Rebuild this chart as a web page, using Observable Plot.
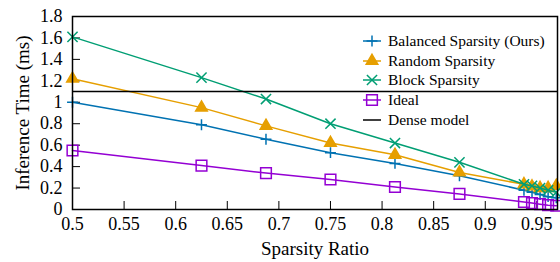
<!DOCTYPE html>
<html><head><meta charset="utf-8">
<script src="https://cdn.jsdelivr.net/npm/d3@7"></script>
<script src="https://cdn.jsdelivr.net/npm/@observablehq/plot@0.6"></script>
<style>
body{margin:0;background:#fff;}
#wrap{position:relative;width:560px;height:262px;font-family:"Liberation Serif","Times New Roman",serif;}
#legend{position:absolute;left:356px;top:31px;font-size:15.5px;color:#000;}
.row{display:flex;align-items:center;height:19.7px;white-space:nowrap;}
.row svg{width:32px;height:20px;flex:none;}
</style></head><body><div id="wrap"></div>
<script>
const sparsity = [0.5, 0.625, 0.6875, 0.75, 0.8125, 0.875, 0.9375, 0.9453, 0.9531, 0.9609, 0.9688];
const balanced = [1.0, 0.79, 0.655, 0.53, 0.43, 0.315, 0.18, 0.16, 0.14, 0.12, 0.11];
const random   = [1.22, 0.95, 0.78, 0.62, 0.51, 0.345, 0.235, 0.215, 0.2, 0.2, 0.22];
const block    = [1.61, 1.23, 1.03, 0.8, 0.62, 0.44, 0.235, 0.22, 0.2, 0.18, 0.16];
const ideal    = [0.55, 0.41, 0.34, 0.28, 0.21, 0.145, 0.07, 0.06, 0.05, 0.04, 0.035];
const denseModel = 1.1;
const seriesNames = ["Balanced Sparsity (Ours)", "Random Sparsity", "Block Sparsity", "Ideal"];
const xTicks = [0.5, 0.55, 0.6, 0.65, 0.7, 0.75, 0.8, 0.85, 0.9, 0.95];
const yTicks = [0, 0.2, 0.4, 0.6, 0.8, 1, 1.2, 1.4, 1.6, 1.8];

const series = [
  {name: seriesNames[0], values: balanced, color: "#0072b2", symbol: "plus", r: 3.6, fill: "none"},
  {name: seriesNames[1], values: random, color: "#e69f00", symbol: "triangle", r: 4.3, fill: "#e69f00"},
  {name: seriesNames[2], values: block, color: "#009e73", symbol: "times", r: 4.7, fill: "none"},
  {name: seriesNames[3], values: ideal, color: "#9400d3", symbol: "square2", r: 6.8, fill: "none"}
];
const fmt = d => String(+d.toFixed(2));
const font = '"Liberation Serif","Times New Roman",serif';

const marks = [
  Plot.axisX(xTicks, {tickSize: 0, tickPadding: 8, tickFormat: fmt, label: null, fontSize: 18}),
  Plot.axisX(xTicks, {tickSize: 8, dy: -8, tickFormat: () => "", label: null}),
  Plot.axisY(yTicks, {tickSize: 0, tickPadding: 10, tickFormat: fmt, label: null, fontSize: 18}),
  Plot.axisY(yTicks, {tickSize: 8, dx: 8, tickFormat: () => "", label: null}),
  Plot.text(["Inference Time (ms)"], {frameAnchor: "left", dx: -50, rotate: -90, textAnchor: "middle", lineAnchor: "middle", fontSize: 19}),
  Plot.text(["Sparsity Ratio"], {frameAnchor: "bottom", dy: 39, lineAnchor: "middle", fontSize: 19})
];
for (const s of series) {
  const data = sparsity.map((x, i) => ({x, y: s.values[i]}));
  marks.push(Plot.line(data, {x: "x", y: "y", stroke: s.color, strokeWidth: 1.5}));
  marks.push(Plot.dot(data, {x: "x", y: "y", symbol: s.symbol, r: s.r, stroke: s.color, fill: s.fill, strokeWidth: 1.5}));
}
marks.push(Plot.ruleY([denseModel], {stroke: "black", strokeWidth: 1.5}));
marks.push(Plot.frame({stroke: "black", strokeWidth: 1.5}));

const chart = Plot.plot({
  width: 560, height: 262,
  marginLeft: 72, marginRight: 3, marginTop: 16, marginBottom: 53,
  style: {fontFamily: font, fontSize: "18px", background: "white", color: "black", overflow: "visible"},
  x: {domain: [0.5, 0.97]},
  y: {domain: [0, 1.8]},
  marks
});
const wrap = document.getElementById("wrap");
wrap.appendChild(chart);

// legend
const legend = document.createElement("div");
legend.id = "legend";
const entries = series.map(s => ({name: s.name, color: s.color, symbol: s.symbol, r: s.r, fill: s.fill}))
  .concat([{name: "Dense model", color: "black", symbol: null}]);
const symMap = {plus: d3.symbolPlus, triangle: d3.symbolTriangle, times: d3.symbolTimes, square2: d3.symbolSquare2};
for (const e of entries) {
  const row = document.createElement("div");
  row.className = "row";
  const svg = d3.create("svg").attr("viewBox", "0 0 32 20");
  svg.append("line").attr("x1", 7).attr("x2", 25).attr("y1", 10).attr("y2", 10)
    .attr("stroke", e.color).attr("stroke-width", 1.5);
  if (e.symbol) {
    svg.append("path").attr("transform", "translate(16,10)")
      .attr("d", d3.symbol(symMap[e.symbol], Math.PI * e.r * e.r)())
      .attr("stroke", e.color).attr("fill", e.fill).attr("stroke-width", 1.5);
  }
  row.appendChild(svg.node());
  const span = document.createElement("span");
  span.textContent = e.name;
  row.appendChild(span);
  legend.appendChild(row);
}
wrap.appendChild(legend);
</script></body></html>
